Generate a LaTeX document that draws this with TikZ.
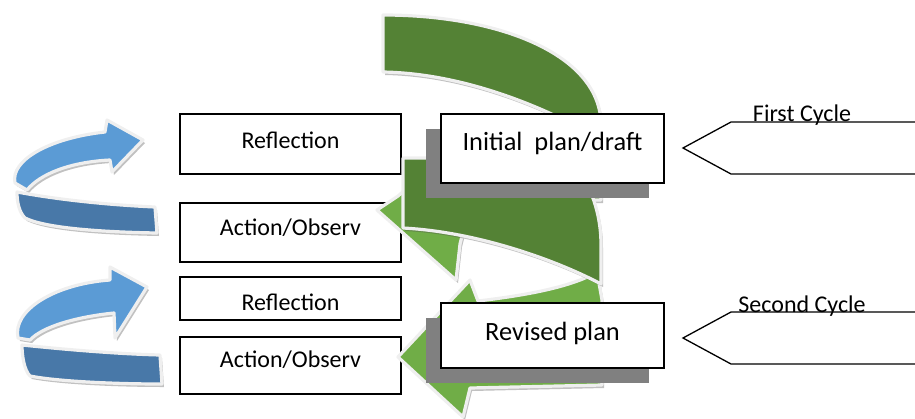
\documentclass[tikz,border=0pt]{standalone}
\usepackage{fontspec}
\setmainfont{Carlito}
\usetikzlibrary{shadows}

\definecolor{leafdark}{HTML}{548235}
\definecolor{leaflight}{HTML}{70AD47}
\definecolor{skylight}{HTML}{5B9BD5}
\definecolor{skydark}{HTML}{4878A8}
\definecolor{rim}{HTML}{EFEFEF}

\tikzset{
  ribbon/.style={draw=rim, line width=1.6pt, line join=round,
    drop shadow={shadow xshift=1pt, shadow yshift=-1.5pt, opacity=.35, fill=black!70}},
  sink/.style={text height=#1, text depth=0pt},
  stage/.style={draw=black, line width=0.75pt, fill=white, minimum width=110.5pt,
    inner ysep=0pt, font=\fontsize{12}{14}\selectfont},
  plan/.style={draw=black, line width=0.75pt, fill=white, minimum width=111.5pt,
    inner ysep=0pt, font=\fontsize{13.2}{15}\selectfont,
    drop shadow={shadow xshift=-7.5pt, shadow yshift=-7.5pt, opacity=1, fill=gray}},
  pennant/.style={draw=black, line width=0.65pt, line join=miter},
  cyclelabel/.style={font=\fontsize{12}{14}\selectfont, anchor=base, inner sep=0pt}
}

\begin{document}
\begin{tikzpicture}[x=0.5pt, y=-0.5pt]
    \useasboundingbox (0,0) rectangle (915,418);

    % blue turn arrows
    \path[ribbon, fill=skylight] (15,183) .. controls (10,160) and (50,138) .. (105,132)
        -- (107,120) -- (143,140) -- (112,172) -- (110,160)
        .. controls (70,162) and (40,174) .. (27,190) -- cycle;
    \path[ribbon, fill=skydark] (17,192) .. controls (60,200) and (110,205) .. (155,207)
        -- (157,233) .. controls (100,232) and (45,228) .. (25,218)
        .. controls (19,212) and (17,202) .. (17,192) -- cycle;

    \path[ribbon, fill=skylight] (18,338) .. controls (12,310) and (55,284) .. (110,280)
        -- (110,267) -- (147,287) -- (115,338) -- (114,313)
        .. controls (75,317) and (42,327) .. (30,340) -- cycle;
    \path[ribbon, fill=skydark] (22,345) .. controls (70,350) and (120,354) .. (160,355)
        -- (162,384) .. controls (110,384) and (55,381) .. (30,376)
        .. controls (24,370) and (22,355) .. (22,345) -- cycle;

    % stages
    \node[stage, sink=4pt, minimum height=30pt]     (reflA) at (290.5,144)   {Reflection};
    \node[stage, sink=3.2pt, minimum height=29.5pt] (actA)  at (290.5,232.5) {Action/Observ};
    \node[stage, sink=11.5pt, minimum height=21.5pt] (reflB) at (290.5,298.5) {Reflection};
    \node[stage, sink=2.2pt, minimum height=28.5pt] (actB)  at (290.5,365.5) {Action/Observ};

    % green spiral
    \path[ribbon, fill=leaflight] (377,210) -- (398,196) -- (405,190) -- (462,236)
        -- (460,244) -- (456,280) -- cycle;
    \path[ribbon, fill=leaflight] (398,357) -- (470,280) -- (478,301)
        .. controls (520,296) and (570,288) .. (597,272) -- (602,300) -- (602,385)
        -- (470,388) -- (463,417) -- cycle;
    \path[ribbon, fill=leafdark] (383,15) .. controls (500,15) and (601,55) .. (601,125)
        -- (601,200) -- (556,200) -- (556,116)
        .. controls (500,90) and (440,73) .. (383,72) -- cycle;
    \path[ribbon, fill=leafdark] (403,158) -- (570,158)
        .. controls (592,185) and (601,215) .. (601,245) -- (601,284)
        .. controls (560,262) and (480,232) .. (403,228) -- cycle;

    % plans
    \node[plan, sink=2.2pt, minimum height=34.5pt] (initPlan) at (552.5,148.5) {Initial\ \ plan/draft};
    \node[plan, sink=4.5pt, minimum height=32.5pt] (revPlan)  at (552.5,335.5) {Revised plan};

    % cycles
    \coordinate (tipA) at (683,148);
    \coordinate (tipB) at (683,338);
    \draw[pennant] (915,122) -- (731,122) -- (tipA) -- (731,174) -- (915,174);
    \draw[pennant] (915,312) -- (731,312) -- (tipB) -- (731,364) -- (915,364);
    \node[cyclelabel] (cycA) at (802,121) {First Cycle};
    \node[cyclelabel] (cycB) at (802,312) {Second Cycle};
\end{tikzpicture}
\end{document}
